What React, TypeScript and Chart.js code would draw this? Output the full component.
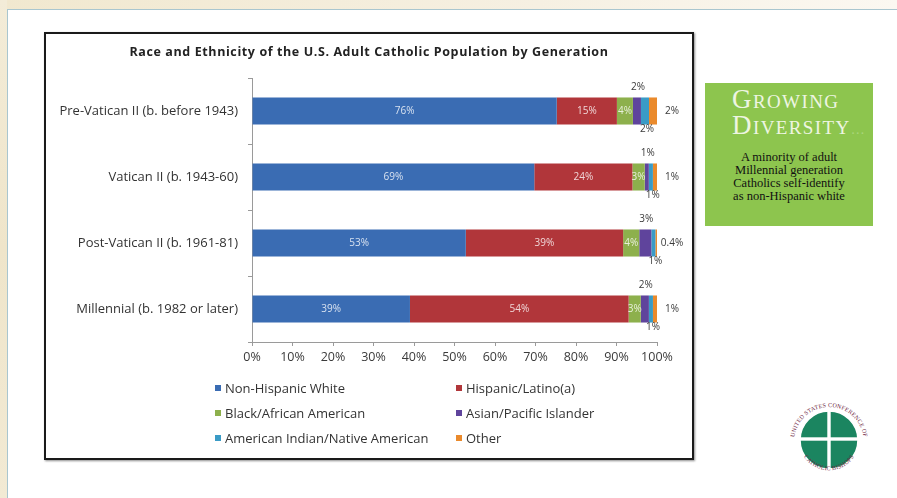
import React, { useEffect, useRef } from "react";
import { Chart, registerables } from "chart.js";

Chart.register(...registerables);

const categories = [
  "Pre-Vatican II (b. before 1943)",
  "Vatican II (b. 1943-60)",
  "Post-Vatican II (b. 1961-81)",
  "Millennial (b. 1982 or later)",
];
const seriesNames = [
  "Non-Hispanic White",
  "Hispanic/Latino(a)",
  "Black/African American",
  "Asian/Pacific Islander",
  "American Indian/Native American",
  "Other",
];
const nonHispanicWhite = [76, 69, 53, 39];
const hispanicLatino = [15, 24, 39, 54];
const blackAfricanAmerican = [4, 3, 4, 3];
const asianPacificIslander = [2, 1, 3, 2];
const americanIndian = [2, 1, 1, 1];
const otherRace = [2, 1, 0.4, 1];
const xTickValues = [0, 10, 20, 30, 40, 50, 60, 70, 80, 90, 100];
const seriesColors = ["#3a6cb3", "#b1363a", "#8db04c", "#5f449c", "#3a9bc6", "#ea8a2c"];

const seriesValues = [
  nonHispanicWhite,
  hispanicLatino,
  blackAfricanAmerican,
  asianPacificIslander,
  americanIndian,
  otherRace,
];

const FONT = "'Open Sans', Lato, sans-serif";

const segLabels = {
  id: "segLabels",
  afterDatasetsDraw(chart: any) {
    const ctx = chart.ctx;
    chart.data.datasets.forEach((_ds: any, i: number) => {
      const meta = chart.getDatasetMeta(i);
      meta.data.forEach((bar: any, j: number) => {
        const text = seriesValues[i][j] + "%";
        const p = bar.getProps(["x", "y", "base", "height"], true);
        const cx = (p.x + p.base) / 2;
        ctx.save();
        ctx.font = "10px " + FONT;
        ctx.textBaseline = "middle";
        ctx.textAlign = "center";
        if (i <= 2) {
          ctx.fillStyle = "rgba(255,255,255,0.8)";
          ctx.fillText(text, cx, p.y);
        } else if (i === 3) {
          ctx.fillStyle = "#3a3a3a";
          ctx.fillText(text, cx + 1, p.y - p.height / 2 - 10);
        } else if (i === 4) {
          ctx.fillStyle = "#3a3a3a";
          ctx.fillText(text, cx + 2, p.y + p.height / 2 + 5);
        } else {
          ctx.fillStyle = "#3a3a3a";
          ctx.fillText(text, p.x + 15, p.y);
        }
        ctx.restore();
      });
    });
  },
};

function ChartCanvas() {
  const ref = useRef<HTMLCanvasElement | null>(null);
  useEffect(() => {
    if (!ref.current) return;
    const sums = categories.map((_c, j) =>
      seriesValues.reduce((s, arr) => s + arr[j], 0)
    );
    const chart = new Chart(ref.current, {
      type: "bar",
      data: {
        labels: categories,
        datasets: seriesNames.map((name, i) => ({
          label: name,
          data: seriesValues[i].map((v, j) => (v / sums[j]) * 100),
          backgroundColor: seriesColors[i],
          borderWidth: 0,
          categoryPercentage: 1,
          barPercentage: 0.41,
        })),
      },
      options: {
        indexAxis: "y",
        responsive: false,
        devicePixelRatio: 1,
        animation: false,
        layout: { padding: { top: 44, right: 35, left: 0, bottom: 0 } },
        plugins: {
          legend: { display: false },
          title: { display: false },
          tooltip: { enabled: false },
        },
        scales: {
          x: {
            stacked: true,
            min: 0,
            max: 100,
            afterFit: (s: any) => {
              s.height = 116;
            },
            afterBuildTicks: (s: any) => {
              s.ticks = xTickValues.map((v) => ({ value: v }));
            },
            ticks: {
              callback: (v: any) => v + "%",
              color: "#3a3a3a",
              font: { family: FONT, size: 12.5 },
              padding: 4,
              maxRotation: 0,
            },
            grid: {
              drawOnChartArea: false,
              drawTicks: true,
              tickLength: 4,
              color: "#9a9a9a",
            },
            border: { display: true, color: "#9a9a9a" },
          },
          y: {
            stacked: true,
            afterFit: (s: any) => {
              s.width = 206;
            },
            ticks: {
              color: "#333333",
              font: { family: FONT, size: 13 },
              padding: 10,
            },
            grid: {
              drawOnChartArea: false,
              drawTicks: true,
              tickLength: 4,
              color: "#9a9a9a",
              offset: true,
            },
            border: { display: true, color: "#9a9a9a" },
          },
        },
      },
      plugins: [segLabels],
    } as any);
    return () => chart.destroy();
  }, []);
  return <canvas ref={ref} width={646} height={424} style={{ display: "block" }} />;
}

function LegendItem({ i, left, top }: { i: number; left: number; top: number }) {
  return (
    <div
      style={{
        position: "absolute",
        left,
        top: top - 9,
        height: 18,
        display: "flex",
        alignItems: "center",
        fontFamily: FONT,
        fontSize: 13,
        color: "#333",
        whiteSpace: "nowrap",
      }}
    >
      <span
        style={{
          display: "inline-block",
          width: 6,
          height: 6,
          background: seriesColors[i],
          marginRight: 4,
        }}
      />
      {seriesNames[i]}
    </div>
  );
}

function Logo() {
  return (
    <svg
      width={90}
      height={90}
      viewBox="0 0 90 90"
      style={{ position: "absolute", left: 784, top: 395 }}
    >
      <defs>
        <path id="arcTop" d="M 10 47 A 35 35 0 1 1 80 47" />
        <path id="arcBot" d="M 16 53 A 30 30 0 0 0 74 53" />
      </defs>
      <circle cx={45} cy={45} r={29} fill="#1b8560" />
      <circle cx={45} cy={45} r={29} fill="none" stroke="#ffffff" strokeWidth={1.5} />
      <rect x={43.3} y={15} width={3.4} height={60} fill="#ffffff" />
      <rect x={15} y={42.3} width={60} height={3.4} fill="#ffffff" />
      <text fontSize={6} fill="#6e2440" fontFamily="'Liberation Serif', serif" letterSpacing={0.2}>
        <textPath href="#arcTop" startOffset="50%" textAnchor="middle">
          UNITED STATES CONFERENCE OF
        </textPath>
      </text>
      <text fontSize={6} fill="#6e2440" fontFamily="'Liberation Serif', serif" letterSpacing={0.2}>
        <textPath href="#arcBot" startOffset="50%" textAnchor="middle">
          CATHOLIC BISHOPS
        </textPath>
      </text>
    </svg>
  );
}

export default function App() {
  useEffect(() => {
    document.body.style.margin = "0";
  }, []);
  return (
    <div
      style={{
        position: "relative",
        width: 897,
        height: 498,
        overflow: "hidden",
        background: "#ffffff",
      }}
    >
      {/* slide decoration */}
      <div
        style={{
          position: "absolute",
          left: 0,
          top: 0,
          width: 897,
          height: 9,
          background: "linear-gradient(90deg, #f1e8cf 0%, #f6f0e2 60%, #fbf8f1 100%)",
        }}
      />
      <div
        style={{
          position: "absolute",
          left: 0,
          top: 0,
          width: 7,
          height: 498,
          background: "linear-gradient(180deg, #f3ecd8 0%, #efe5ca 50%, #f2ead4 100%)",
        }}
      />
      <div style={{ position: "absolute", left: 7, top: 9, width: 890, height: 1, background: "#a9c6cf" }} />
      <div style={{ position: "absolute", left: 7, top: 9, width: 1, height: 489, background: "#a9c6cf" }} />

      {/* chart frame */}
      <div
        style={{
          position: "absolute",
          left: 44,
          top: 32,
          width: 646,
          height: 424,
          border: "2px solid #1a1a1a",
          boxShadow: "1px 1px 2px rgba(0,0,0,0.45)",
          background: "#ffffff",
        }}
      >
        <ChartCanvas />
        <div
          style={{
            position: "absolute",
            left: 0,
            top: 9,
            width: 646,
            textAlign: "center",
            fontFamily: FONT,
            fontWeight: 700,
            fontSize: 12.5,
            letterSpacing: 0.6,
            color: "#222",
            whiteSpace: "nowrap",
          }}
        >
          Race and Ethnicity of the U.S. Adult Catholic Population by Generation
        </div>
      </div>

      {/* legend */}
      <LegendItem i={0} left={215} top={388} />
      <LegendItem i={1} left={456} top={388} />
      <LegendItem i={2} left={215} top={413} />
      <LegendItem i={3} left={456} top={413} />
      <LegendItem i={4} left={215} top={438} />
      <LegendItem i={5} left={456} top={438} />

      {/* green callout */}
      <div
        style={{
          position: "absolute",
          left: 705,
          top: 83,
          width: 168,
          height: 143,
          background: "#8dc54e",
        }}
      >
        <div
          style={{
            position: "absolute",
            left: 27,
            top: 3,
            fontFamily: "'Liberation Serif', 'DejaVu Serif', serif",
            fontVariant: "small-caps",
            fontSize: 27,
            lineHeight: "26px",
            color: "#eef5e2",
            letterSpacing: 1.4,
            whiteSpace: "nowrap",
          }}
        >
          Growing
          <br />
          Diversity<span style={{ color: "#aad67c", fontSize: 14, letterSpacing: 0 }}>…</span>
        </div>
        <div
          style={{
            position: "absolute",
            left: 0,
            top: 68,
            width: 168,
            textAlign: "center",
            fontFamily: "'Liberation Serif', serif",
            fontSize: 12.5,
            lineHeight: "13px",
            color: "#111",
          }}
        >
          A minority of adult
          <br />
          Millennial generation
          <br />
          Catholics self-identify
          <br />
          as non-Hispanic white
        </div>
      </div>

      <Logo />
    </div>
  );
}
